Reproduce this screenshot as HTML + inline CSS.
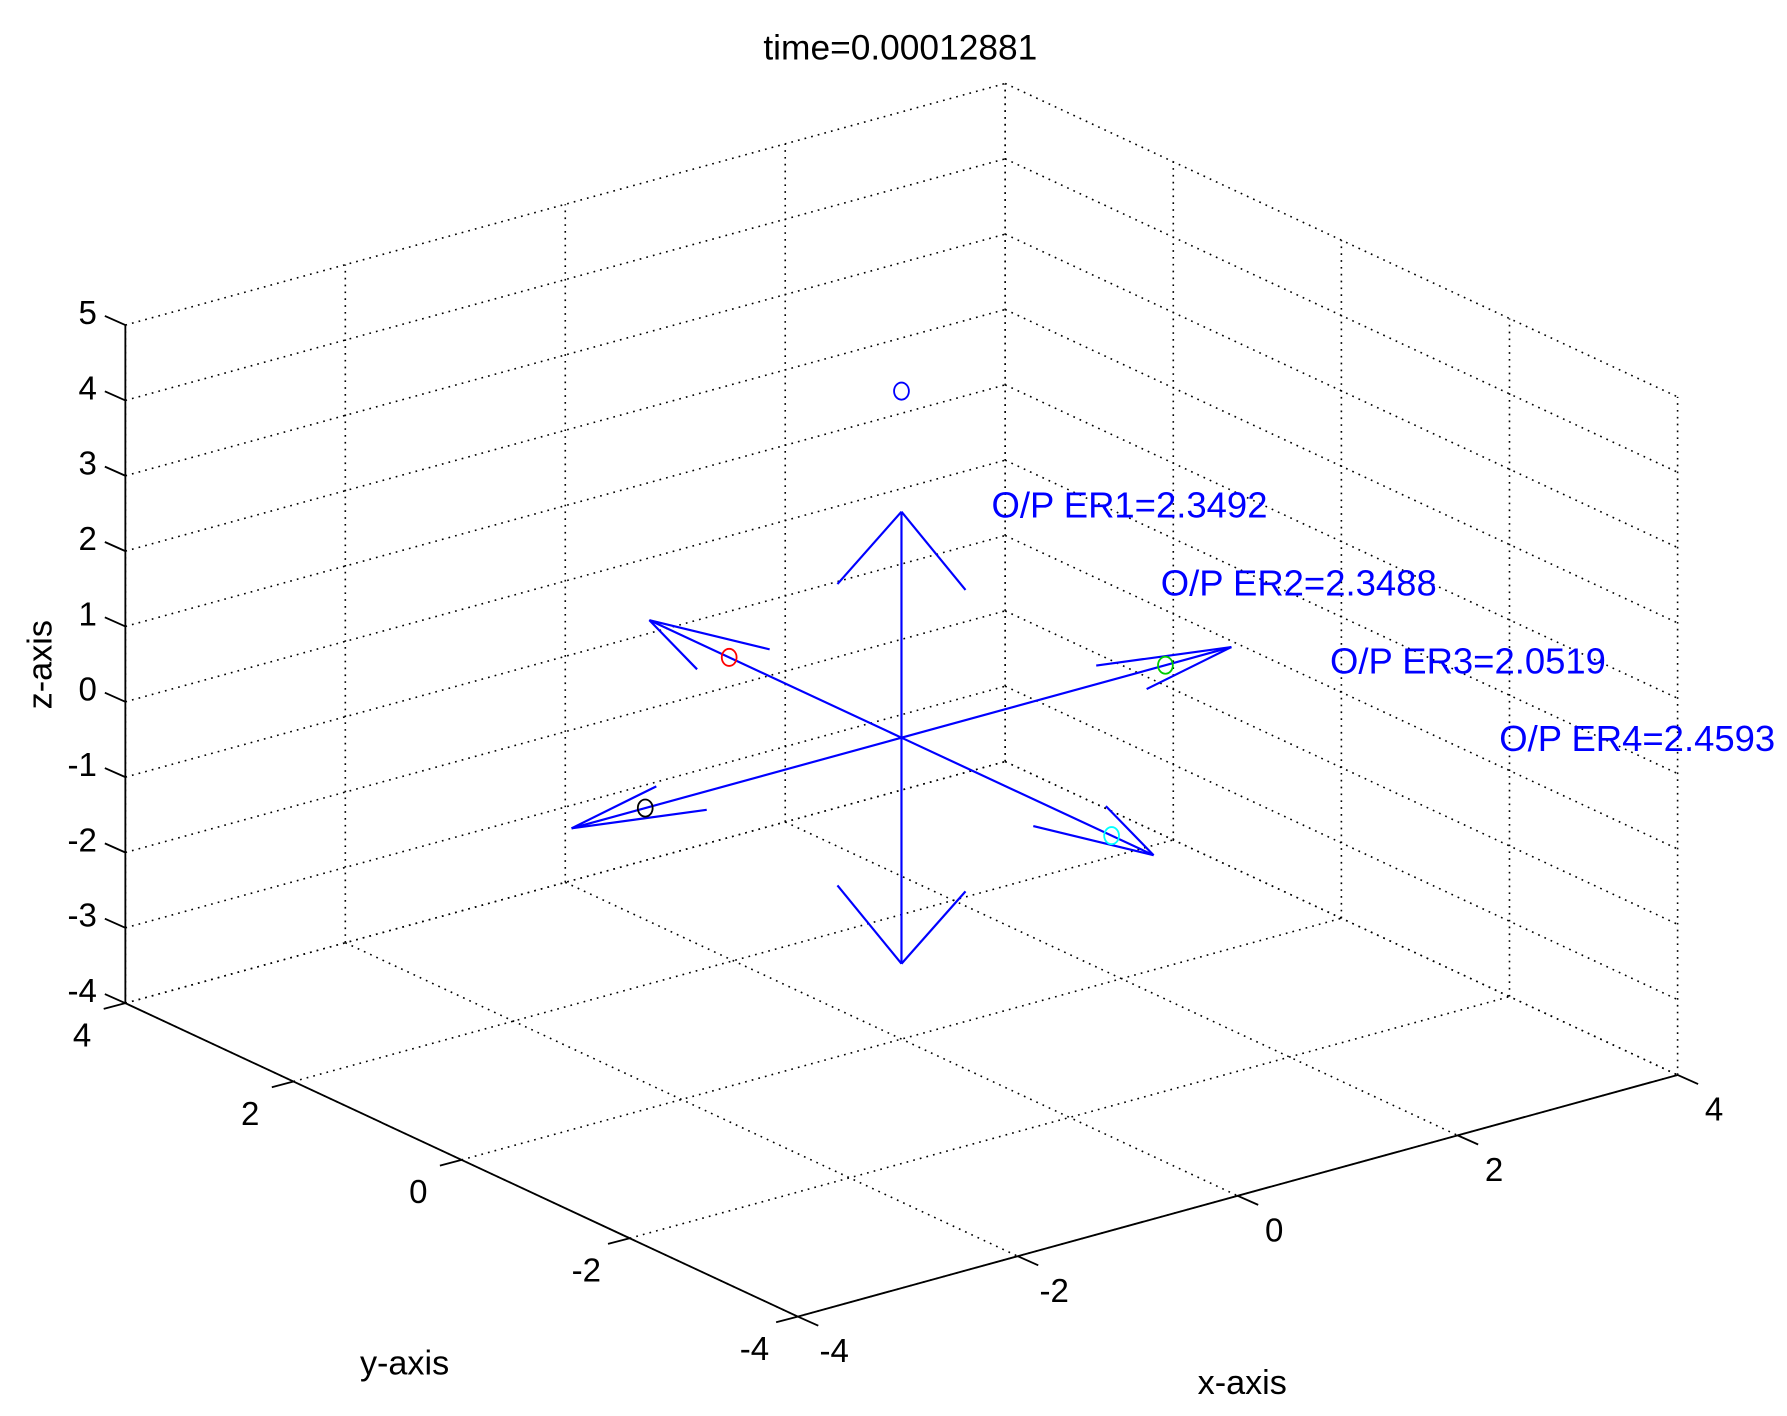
<!DOCTYPE html>
<html><head><meta charset="utf-8"><style>
html,body{margin:0;padding:0;background:#fff;}
svg{display:block;font-family:"Liberation Sans",Arial,sans-serif;}
</style></head><body>
<svg id="chart" width="1787" height="1416" viewBox="0 0 1568 1242" xmlns="http://www.w3.org/2000/svg">
<text x="790" y="52" font-size="31" text-anchor="middle" fill="#000">time=0.00012881</text>
<g id="grid"></g>
<g id="axes"></g>
<g id="marks"></g>
<text transform="translate(45,583) rotate(-90)" font-size="30" text-anchor="middle">z-axis</text>
<text x="355" y="1206" font-size="30" text-anchor="middle">y-axis</text>
<text x="1090" y="1223" font-size="30" text-anchor="middle">x-axis</text>
</svg>
<script>
const xTicks=[-4,-2,0,2,4];
const yTicks=[-4,-2,0,2,4];
const zTicks=[-4,-3,-2,-1,0,1,2,3,4,5];
const arrowU=[0,0,-3,3,0,0];
const arrowV=[0,0,0,0,3,-3];
const arrowW=[3,-3,0,0,0,0];
const markerX=[0,0,-2.33,2.4,0];
const markerY=[0,2.05,0,0,-2.5];
const markerZ=[4.6,0,0,0,0];
const markerColors=['#0000ff','#ff0000','#000000','#00cc00','#00ffff'];
const labelTexts=['O/P ER1=2.3492','O/P ER2=2.3488','O/P ER3=2.0519','O/P ER4=2.4593'];

const NS='http://www.w3.org/2000/svg';
const O=[110,880], EX=[772,-212], EY=[590,275], EZ=[0,-595];
function P(x,y,z){const a=(x+4)/8,b=(4-y)/8,c=(z+4)/9;
 return [O[0]+a*EX[0]+b*EY[0]+c*EZ[0], O[1]+a*EX[1]+b*EY[1]+c*EZ[1]];}
function mk(parent,tag,attrs){const e=document.createElementNS(NS,tag);for(const k in attrs)e.setAttribute(k,attrs[k]);parent.appendChild(e);return e;}
const grid=document.getElementById('grid'), axes=document.getElementById('axes'), marks=document.getElementById('marks');
function gl(a,b){const e=mk(grid,'line',{x1:a[0],y1:a[1],x2:b[0],y2:b[1],stroke:'#000','stroke-width':1.4,'stroke-dasharray':'1.5 4.5'});

}
xTicks.forEach(x=>gl(P(x,4,-4),P(x,4,5)));
zTicks.forEach(z=>gl(P(-4,4,z),P(4,4,z)));
yTicks.forEach(y=>gl(P(4,y,-4),P(4,y,5)));
zTicks.forEach(z=>gl(P(4,4,z),P(4,-4,z)));
xTicks.forEach(x=>gl(P(x,4,-4),P(x,-4,-4)));
yTicks.forEach(y=>gl(P(-4,y,-4),P(4,y,-4)));

function al(a,b,name){const e=mk(axes,'line',{x1:a[0],y1:a[1],x2:b[0],y2:b[1],stroke:'#000','stroke-width':1.6});

}
al(P(-4,4,-4),P(-4,4,5),'z-axis-line');
al(P(-4,4,-4),P(-4,-4,-4),'y-axis-line');
al(P(-4,-4,-4),P(4,-4,-4),'x-axis-line');
function tl(x,y,txt,anchor,name){const t=mk(axes,'text',{x:x,y:y,'font-size':29,'text-anchor':anchor});t.textContent=txt;

}
zTicks.forEach(z=>{const p=P(-4,4,z);al(p,[p[0]-18,p[1]-8],'z-tick');tl(p[0]-25,p[1]-1,String(z),'end','z-tick-label');});
yTicks.forEach(y=>{const p=P(-4,y,-4);al(p,[p[0]-19,p[1]+5],'y-tick');tl(p[0]-38,p[1]+38,String(y),'middle','y-tick-label');});
xTicks.forEach(x=>{const p=P(x,-4,-4);al(p,[p[0]+18,p[1]+8],'x-tick');tl(p[0]+32,p[1]+40,String(x),'middle','x-tick-label');});

function bl(a,b){const e=mk(marks,'line',{x1:a[0],y1:a[1],x2:b[0],y2:b[1],stroke:'#0000ff','stroke-width':1.9});

}
for(let i=0;i<arrowU.length;i++){
 const u=arrowU[i],v=arrowV[i],w=arrowW[i];const L=Math.hypot(u,v,w);
 const d=[u/L,v/L,w/L];
 let pp;
 if(Math.abs(d[2])>0.5) pp=[0.33,-0.33,0]; else if(Math.abs(d[0])>0.5) pp=[0,0.3,0]; else pp=[0.33,0,0];
 const tip=[u,v,w], base=[u-d[0],v-d[1],w-d[2]];
 bl(P(0,0,0),P(...tip));
 bl(P(...tip),P(base[0]+pp[0],base[1]+pp[1],base[2]+pp[2]));
 bl(P(...tip),P(base[0]-pp[0],base[1]-pp[1],base[2]-pp[2]));
}
for(let i=0;i<markerX.length;i++){const p=P(markerX[i],markerY[i],markerZ[i]);
 const c=mk(marks,'ellipse',{cx:p[0],cy:p[1],rx:6.5,ry:7.5,fill:'none',stroke:markerColors[i],'stroke-width':1.6});
 
 }
for(let i=0;i<labelTexts.length;i++){
 const t=mk(marks,'text',{x:870+i*148.5,y:454+i*68.3,'font-size':32,fill:'#0000ff'});
 t.textContent=labelTexts[i];
 
 }
</script>
</body></html>
